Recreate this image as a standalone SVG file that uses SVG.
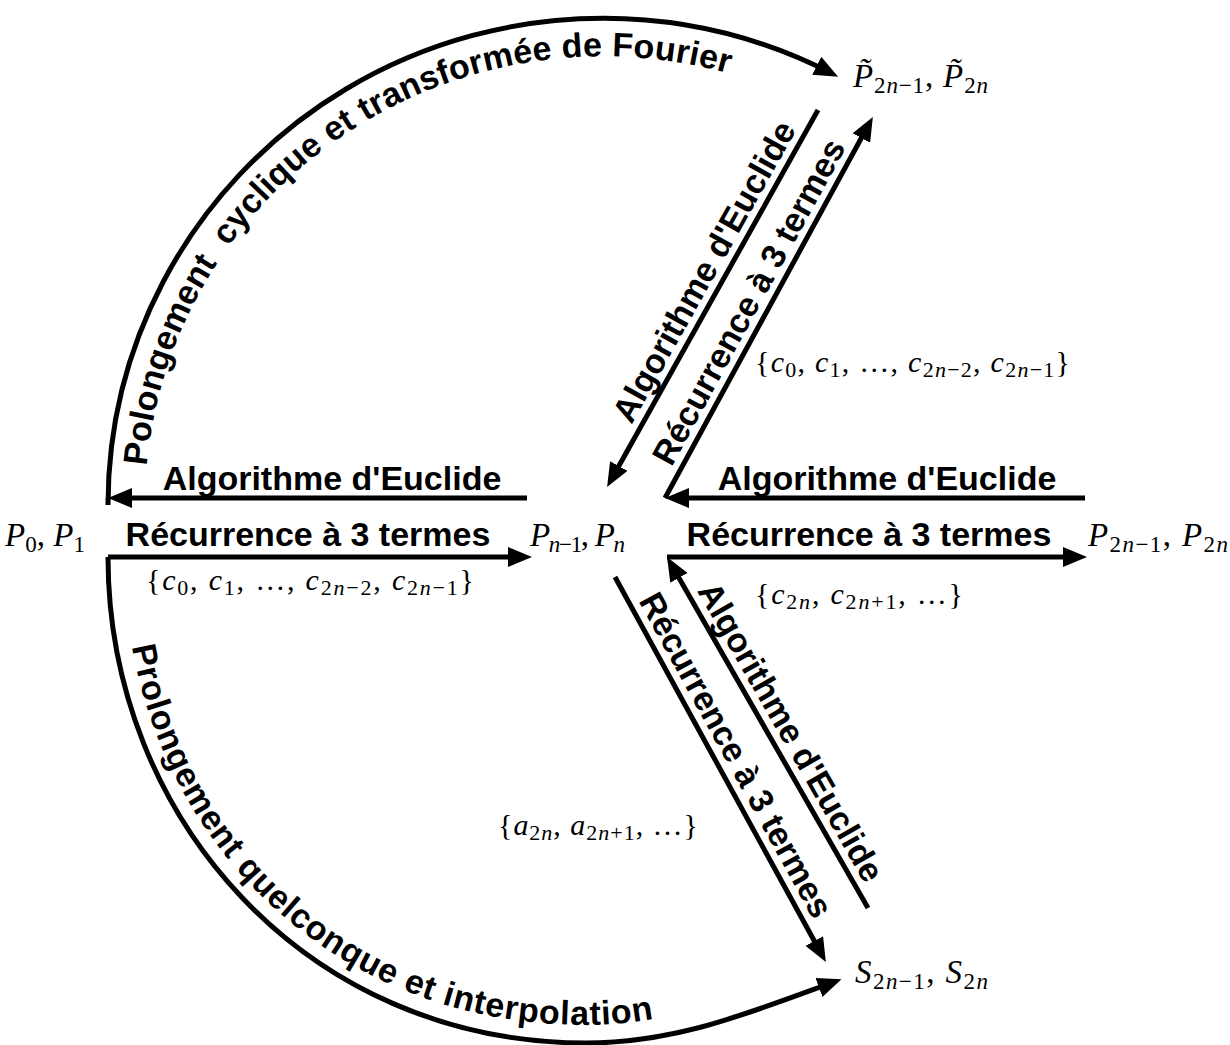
<svg xmlns="http://www.w3.org/2000/svg" width="1230" height="1045" viewBox="0 0 1230 1045">
<style>
.lbl{font-family:"Liberation Sans",Arial,sans-serif;font-weight:bold;font-size:34px;fill:#000}
.m{font-family:"Liberation Serif","Times New Roman",serif;font-size:33px;fill:#000}
.ms{font-family:"Liberation Serif","Times New Roman",serif;font-size:30px;fill:#000}
.i{font-style:italic}
.s{font-size:23px}
.s2{font-size:22px}
.conn{fill:none;stroke:#000;stroke-width:5;marker-end:url(#ah)}
</style>
<defs>
<marker id="ah" markerUnits="userSpaceOnUse" viewBox="0 0 24 20" refX="16" refY="10" markerWidth="24" markerHeight="20" orient="auto"><path d="M0,0 L24,10 L0,20 z" fill="#000"/></marker>
<path id="tp-top" d="M145,498 L145,505 A458,449 0 0 1 927,188"/>
<path id="tp-bot" d="M124,557 C124,810 310,1025 586,1025 C670,1025 745,995 830,964"/>
</defs>
<rect width="1230" height="1045" fill="#fff"/>
<g id="connectors">
<g id="e-fourier"><path class="conn" d="M108,498 L108,505 A495,487 0 0 1 831,73"/>
<text class="lbl"><textPath href="#tp-top" startOffset="46" textLength="800">Polongement&#160; cyclique et transformée de Fourier</textPath></text></g>
<g id="e-interp"><path class="conn" d="M108,557 C108,817 306,1043 586,1043 C676,1043 749,1013 834,982"/>
<text class="lbl"><textPath href="#tp-bot" startOffset="90" textLength="712">Prolongement quelconque et interpolation</textPath></text></g>
<g id="e-h1"><path class="conn" d="M527,498 L116,498"/><text class="lbl" x="332" y="490" text-anchor="middle">Algorithme d'Euclide</text></g>
<g id="e-h2"><path class="conn" d="M108,557 L524,557"/><text class="lbl" x="308" y="546" text-anchor="middle">Récurrence à 3 termes</text></g>
<g id="e-h3"><path class="conn" d="M1085,498 L673,498"/><text class="lbl" x="887" y="490" text-anchor="middle">Algorithme d'Euclide</text></g>
<g id="e-h4"><path class="conn" d="M667,557 L1079,557"/><text class="lbl" x="869" y="546" text-anchor="middle">Récurrence à 3 termes</text></g>
<g id="e-a"><path class="conn" d="M818,110 L611,480"/><text class="lbl" transform="translate(631.4,425) rotate(-60.76)">Algorithme d'Euclide</text></g>
<g id="e-b"><path class="conn" d="M665,498 L869,124"/><text class="lbl" transform="translate(671.5,467.4) rotate(-61.36)">Récurrence à 3 termes</text></g>
<g id="e-c"><path class="conn" d="M615,577 L822,955"/><text class="lbl" transform="translate(638.3,600.8) rotate(61.27)">Récurrence à 3 termes</text></g>
<g id="e-d"><path class="conn" d="M868,908 L671,564"/><text class="lbl" transform="translate(696.7,590.7) rotate(60.2)">Algorithme d'Euclide</text></g>
</g>
<g id="node-p0p1"><text class="m" x="5" y="546" textLength="80"><tspan class="i">P</tspan><tspan class="s" dy="6">0</tspan><tspan dy="-6">, </tspan><tspan class="i">P</tspan><tspan class="s" dy="6">1</tspan></text></g>
<g id="node-pn"><text class="m" x="530" y="546" textLength="95"><tspan class="i">P</tspan><tspan class="s" dy="6"><tspan class="i">n</tspan>−1</tspan><tspan dy="-6">, </tspan><tspan class="i">P</tspan><tspan class="s i" dy="6">n</tspan></text></g>
<g id="node-p2n"><text class="m" x="1088" y="546" textLength="140"><tspan class="i">P</tspan><tspan class="s" dy="6">2<tspan class="i">n</tspan>−1</tspan><tspan dy="-6">, </tspan><tspan class="i">P</tspan><tspan class="s" dy="6">2<tspan class="i">n</tspan></tspan></text></g>
<g id="node-ptilde"><text class="m" x="853" y="87" textLength="135"><tspan class="i">P̃</tspan><tspan class="s" dy="6">2<tspan class="i">n</tspan>−1</tspan><tspan dy="-6">, </tspan><tspan class="i">P̃</tspan><tspan class="s" dy="6">2<tspan class="i">n</tspan></tspan></text></g>
<g id="node-s"><text class="m" x="855" y="983" textLength="133"><tspan class="i">S</tspan><tspan class="s" dy="6">2<tspan class="i">n</tspan>−1</tspan><tspan dy="-6">, </tspan><tspan class="i">S</tspan><tspan class="s" dy="6">2<tspan class="i">n</tspan></tspan></text></g>
<g id="set-c-left"><text class="ms" x="146" y="590" textLength="328">{<tspan class="i">c</tspan><tspan class="s2" dy="5">0</tspan><tspan dy="-5">, </tspan><tspan class="i">c</tspan><tspan class="s2" dy="5">1</tspan><tspan dy="-5">, …, </tspan><tspan class="i">c</tspan><tspan class="s2" dy="5">2<tspan class="i">n</tspan>−2</tspan><tspan dy="-5">, </tspan><tspan class="i">c</tspan><tspan class="s2" dy="5">2<tspan class="i">n</tspan>−1</tspan><tspan dy="-5">}</tspan></text></g>
<g id="set-c-upper"><text class="ms" x="755" y="372" textLength="315">{<tspan class="i">c</tspan><tspan class="s2" dy="5">0</tspan><tspan dy="-5">, </tspan><tspan class="i">c</tspan><tspan class="s2" dy="5">1</tspan><tspan dy="-5">, …, </tspan><tspan class="i">c</tspan><tspan class="s2" dy="5">2<tspan class="i">n</tspan>−2</tspan><tspan dy="-5">, </tspan><tspan class="i">c</tspan><tspan class="s2" dy="5">2<tspan class="i">n</tspan>−1</tspan><tspan dy="-5">}</tspan></text></g>
<g id="set-c2n"><text class="ms" x="755" y="604" textLength="208">{<tspan class="i">c</tspan><tspan class="s2" dy="5">2<tspan class="i">n</tspan></tspan><tspan dy="-5">, </tspan><tspan class="i">c</tspan><tspan class="s2" dy="5">2<tspan class="i">n</tspan>+1</tspan><tspan dy="-5">, …}</tspan></text></g>
<g id="set-a2n"><text class="ms" x="498" y="835" textLength="200">{<tspan class="i">a</tspan><tspan class="s2" dy="5">2<tspan class="i">n</tspan></tspan><tspan dy="-5">, </tspan><tspan class="i">a</tspan><tspan class="s2" dy="5">2<tspan class="i">n</tspan>+1</tspan><tspan dy="-5">, …}</tspan></text></g>
</svg>
